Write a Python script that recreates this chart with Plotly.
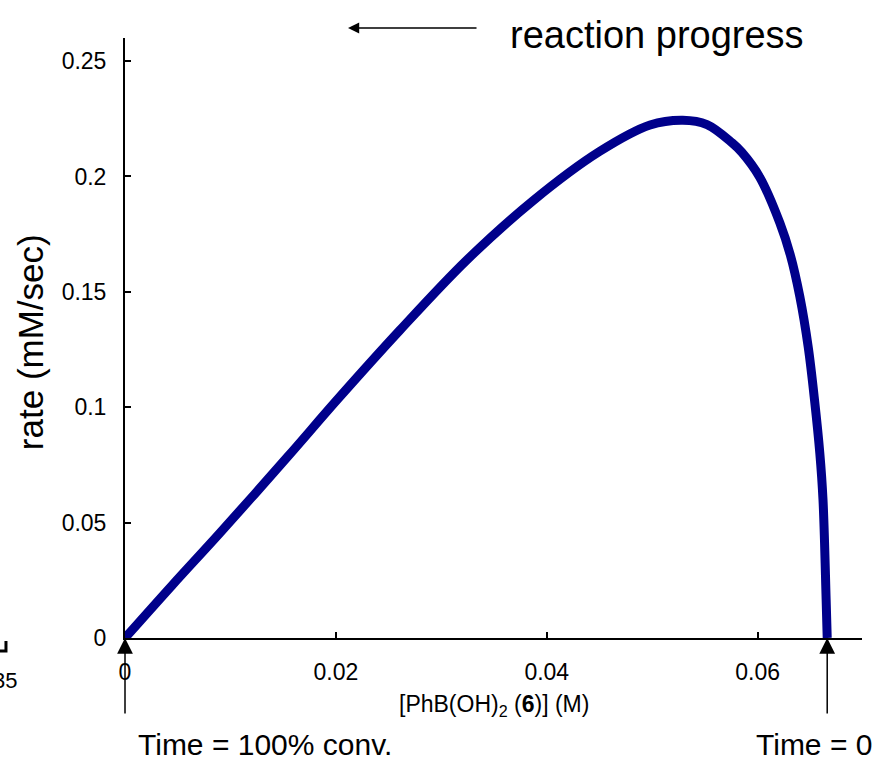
"""
plot.py - rate vs [PhB(OH)2] reaction progress curve (Plotly)
"""

import plotly.graph_objects as go

# ---------------------------------------------------------------------------
# DATA
# ---------------------------------------------------------------------------
conc_m = [0, 0.0045, 0.009, 0.0154, 0.0201, 0.0261, 0.0324, 0.0387,
          0.045, 0.0498, 0.0529, 0.0552, 0.0576, 0.0585, 0.0602, 0.0621,
          0.0631, 0.064, 0.0648, 0.0654, 0.0659, 0.0662, 0.0665, 0.0666]
rate_mm_s = [0, 0.023, 0.0455, 0.0784, 0.1031, 0.1335, 0.1637, 0.1895,
             0.2108, 0.2223, 0.2244, 0.2225, 0.2145, 0.2105, 0.1997, 0.180,
             0.166, 0.148, 0.126, 0.103, 0.08, 0.06, 0.0165, 0]

x_ticks = [0, 0.02, 0.04, 0.06]
x_tick_labels = ["0", "0.02", "0.04", "0.06"]
y_ticks = [0, 0.05, 0.1, 0.15, 0.2, 0.25]
y_tick_labels = ["0", "0.05", "0.1", "0.15", "0.2", "0.25"]

t_start_x = 0.0666   # Time = 0 marker
t_end_x = 0.0        # Time = 100% conv. marker

# ---------------------------------------------------------------------------
# STYLE
# ---------------------------------------------------------------------------
WIDTH, HEIGHT = 882, 761
FONT = "Arial, Liberation Sans, sans-serif"
CURVE_COLOR = "#00008B"


def label(fig, text, x, y, size, **kw):
    # paper-referenced text, anchored on its centre
    fig.add_annotation(
        text=text, xref="paper", yref="paper", x=x, y=y,
        xanchor=kw.pop("xanchor", "center"), yanchor="middle",
        showarrow=False, font=dict(family=FONT, size=size, color="black"), **kw,
    )


fig = go.Figure()

fig.add_trace(
    go.Scatter(
        x=conc_m,
        y=rate_mm_s,
        mode="lines",
        line=dict(color=CURVE_COLOR, width=9, shape="spline", smoothing=1.0),
        showlegend=False,
    )
)

axis_common = dict(
    showline=True,
    linecolor="black",
    linewidth=2,
    showgrid=False,
    zeroline=False,
    automargin=False,
    ticks="inside",
    ticklen=6,
    tickwidth=2,
    tickcolor="black",
    tickfont=dict(family=FONT, size=23, color="black"),
)

fig.update_layout(
    template="none",
    width=WIDTH,
    height=HEIGHT,
    margin=dict(l=125, r=20, t=38, b=123),
    paper_bgcolor="white",
    plot_bgcolor="white",
    font=dict(family=FONT, color="black"),
    showlegend=False,
    xaxis=dict(range=[0, 0.0699], tickvals=x_ticks, ticktext=x_tick_labels,
               ticklabelstandoff=12, **axis_common),
    yaxis=dict(range=[0, 0.26], tickvals=y_ticks, ticktext=y_tick_labels,
               ticklabelstandoff=12, **axis_common),
)

# axis titles
label(fig, "rate (mM/sec)", -0.129, 0.493, 35, textangle=-90)
label(fig, "[PhB(OH)<sub>2</sub> (<b>6</b>)] (M)", 0.501, -0.112, 23)

# reaction progress arrow + label
fig.add_annotation(
    x=0.3026, y=1.0167, xref="paper", yref="paper", ax=130, ay=0,
    text="", showarrow=True, arrowhead=2, arrowsize=1.4, arrowwidth=1.6,
    arrowcolor="black",
)
label(fig, "reaction progress", 0.722, 1.005, 38)

# time markers: arrows pointing up at the x axis
for x_val, text, lx in [(t_end_x, "Time = 100% conv.", 0.19),
                        (t_start_x, "Time = 0", 0.935)]:
    fig.add_annotation(
        x=x_val, y=0, xref="x", yref="y", ax=0, ay=77, text="",
        showarrow=True, arrowhead=2, arrowsize=2.1, arrowwidth=1.5,
        arrowcolor="black",
    )
    label(fig, text, lx, -0.177, 30)

# cropped remnants at the left edge of the source figure
label(fig, "35", -0.1438, -0.07, 22, xanchor="right")
fig.add_shape(
    type="path", xref="paper", yref="paper",
    path="M -0.175,-0.0217 L -0.1615,-0.0217 L -0.1615,-0.005",
    line=dict(color="black", width=3),
)

fig.write_html(
    "out.html",
    config={"displayModeBar": False},
    post_script="document.body.style.margin='0px';",
)
